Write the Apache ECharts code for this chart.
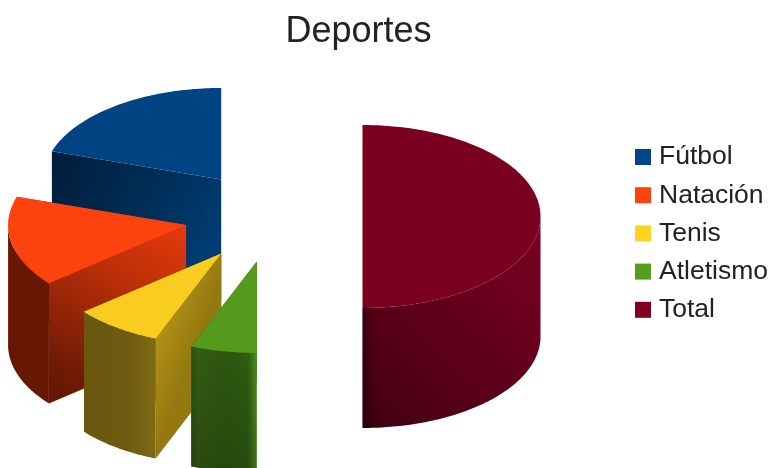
<!DOCTYPE html>
<html>
<head>
<meta charset="utf-8">
<style>html,body{margin:0;padding:0;background:#fff}#c{width:771px;height:468px}</style>
<script src="https://cdn.jsdelivr.net/npm/echarts@6/dist/echarts.min.js"></script>
</head>
<body>
<div id="c"></div>
<script>
const categories = ['Fútbol', 'Natación', 'Tenis', 'Atletismo', 'Total'];
const values = [10, 8, 4, 3, 25];
const legendColors = ['#004586', '#ff420e', '#ffd320', '#579d1c', '#7e0021'];
const topColors = ['#004483', '#fc420f', '#f8cd1f', '#559a1c', '#7a0020'];

// Projection of the tilted, exploded pie
const PIE = {cx: 273.5, cy: 216.5, rx: 178, ry: 91.5, depth: 120, explode: 0.5};

function lin(x, y, x2, y2, stops) {
  return {type: 'linear', x, y, x2, y2,
    colorStops: stops.map(s => ({offset: s[0], color: s[1]}))};
}
// Shading per slice: front outer wall, visible cut wall, optional wall overlay
const wallFill = [
  '#001f3d',
  '#661804',
  lin(0, 0, 1, 0, [[0, '#6a570f'], [0.6, '#6e5a10'], [1, '#806a14']]),
  lin(0, 0, 1, 0, [[0, '#2c5011'], [0.1, '#345c15'], [0.5, '#2e5811'], [0.86, '#2f5c12'], [1, '#4f8e1c']]),
  lin(0, 1, 1, 0.1, [[0, '#34000e'], [0.12, '#480013'], [0.45, '#5c0019'], [0.78, '#6e001f'], [1, '#78001f']])
];
const wallOverlay = [
  null, null, null,
  lin(0, 0, 0, 1, [[0, 'rgba(0,0,0,0)'], [1, 'rgba(0,0,0,0.2)']]),
  lin(0, 0, 1, 0, [[0, 'rgba(0,0,0,0.35)'], [0.06, 'rgba(0,0,0,0)'], [1, 'rgba(0,0,0,0)']])
];
const cutFill = [
  lin(0, 0.15, 1, 0.75, [[0, '#001f3c'], [0.55, '#002f5a'], [1, '#003f78']]),
  lin(1, 0, 0.2, 1, [[0, '#e63a0b'], [0.4, '#b82e09'], [0.9, '#6e1b05'], [1, '#661804']]),
  lin(0, 0, 1, 0.12, [[0, '#c9a51b'], [0.25, '#bb9818'], [1, '#947910']]),
  '#2f5412',
  '#34000e'
];

const total = values.reduce((a, b) => a + b, 0);
// Slices run counter-clockwise from 12 o'clock; angles are clockwise degrees
const spans = [];
let run = 360;
values.forEach(v => {
  const sweep = v / total * 360;
  spans.push([run - sweep, run]);
  run -= sweep;
});

function project(a, r, ox, oy, dz) {
  const t = a * Math.PI / 180;
  return [ox + PIE.rx * r * Math.sin(t), oy - PIE.ry * r * Math.cos(t) + dz];
}
function arcPts(a0, a1, ox, oy, dz) {
  const n = Math.max(2, Math.ceil(Math.abs(a1 - a0)));
  const pts = [];
  for (let i = 0; i <= n; i++) pts.push(project(a0 + (a1 - a0) * i / n, 1, ox, oy, dz));
  return pts;
}
function poly(points, fill) {
  return {type: 'polygon', shape: {points}, style: {fill, stroke: null}, silent: true};
}

function renderSlice(idx) {
  const [a0, a1] = spans[idx];
  const mid = (a0 + a1) / 2;
  const [ox, oy] = project(mid, PIE.explode, PIE.cx, PIE.cy, 0);
  const h = PIE.depth;
  const cutWall = a => {
    const e = project(a, 1, ox, oy, 0);
    return {a, y: e[1], pts: [[ox, oy], e, [e[0], e[1] + h], [ox, oy + h]]};
  };
  const cuts = [cutWall(a0), cutWall(a1)].sort((p, q) => p.y - q.y);
  const children = cuts.map(c => poly(c.pts, cutFill[idx]));
  // front half of the rim only (between 90° and 270°)
  const f0 = Math.max(a0, 90), f1 = Math.min(a1, 270);
  if (f1 > f0) {
    const rim = arcPts(f0, f1, ox, oy, 0).concat(arcPts(f1, f0, ox, oy, h));
    children.push(poly(rim, wallFill[idx]));
    if (wallOverlay[idx]) children.push(poly(rim, wallOverlay[idx]));
  }
  const face = [[ox, oy]].concat(arcPts(a0, a1, ox, oy, 0));
  children.push(poly(face, topColors[idx]));
  return {type: 'group', children};
}

const chart = echarts.init(document.getElementById('c'), null, {renderer: 'canvas'});
chart.setOption({
  animation: false,
  backgroundColor: '#ffffff',
  title: {
    text: 'Deportes',
    left: 353.5, top: 9, textAlign: 'center',
    textStyle: {fontFamily: 'Liberation Sans', fontSize: 36, fontWeight: 'normal', color: '#222222'}
  },
  legend: {
    orient: 'vertical',
    left: 630, top: 138.5,
    itemWidth: 16, itemHeight: 16, itemGap: 11.2, icon: 'rect',
    textStyle: {fontFamily: 'Liberation Sans', fontSize: 26.5, color: '#222222', padding: [0, 0, 0, 3]},
    data: categories
  },
  series: categories.map((name, i) => ({
    type: 'custom',
    name,
    coordinateSystem: 'none',
    silent: true,
    itemStyle: {color: legendColors[i]},
    data: [[values[i]]],
    renderItem: () => renderSlice(i)
  }))
});
</script>
</body>
</html>
